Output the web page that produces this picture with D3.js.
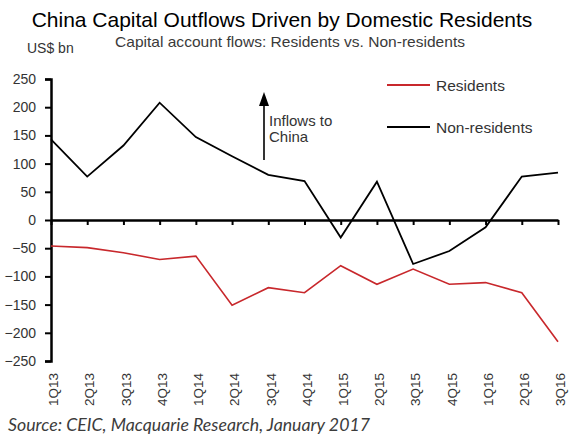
<!DOCTYPE html>
<html>
<head>
<meta charset="utf-8">
<script src="https://cdn.jsdelivr.net/npm/d3@7"></script>
<style>
  body { margin: 0; background: #fff; }
  svg { display: block; font-family: "Liberation Sans", Arial, sans-serif; }
</style>
</head>
<body>
<div id="chart"></div>
<script>
var quarters = ["1Q13","2Q13","3Q13","4Q13","1Q14","2Q14","3Q14","4Q14",
                "1Q15","2Q15","3Q15","4Q15","1Q16","2Q16","3Q16"];
var residents = [-46,-49,-58,-70,-64,-151,-120,-129,-81,-114,-87,-114,-111,-129,-216];
var nonResidents = [143,77,132,208,147,113,80,69,-31,68,-78,-55,-13,77,84];
var yTicks = [250,200,150,100,50,0,-50,-100,-150,-200,-250];

var width = 571, height = 442;
var redColor = "#c8282c";

var svg = d3.select("#chart").append("svg")
  .attr("width", width).attr("height", height);

var x = d3.scalePoint().domain(quarters).range([51, 558]);
var y = d3.scaleLinear().domain([-250, 250]).range([361, 79]);

// titles
svg.append("text")
  .attr("x", 282).attr("y", 26.5)
  .attr("text-anchor", "middle")
  .attr("font-size", 21).attr("fill", "#000")
  .text("China Capital Outflows Driven by Domestic Residents");

svg.append("text")
  .attr("x", 290).attr("y", 47)
  .attr("text-anchor", "middle")
  .attr("font-size", 15).attr("fill", "#3a3a3a")
  .attr("textLength", 350).attr("lengthAdjust", "spacingAndGlyphs")
  .text("Capital account flows: Residents vs. Non-residents");

svg.append("text")
  .attr("x", 27).attr("y", 53)
  .attr("font-size", 14).attr("fill", "#333")
  .text("US$ bn");

// y axis
var yAxis = svg.append("g")
  .attr("transform", "translate(51,0)")
  .call(d3.axisLeft(y).tickValues(yTicks).tickSize(6).tickPadding(9));
yAxis.select(".domain").attr("stroke", "#000").attr("stroke-width", 2.5);
yAxis.selectAll(".tick line").attr("stroke", "#000").attr("stroke-width", 2);
yAxis.selectAll(".tick text")
  .attr("font-size", 14).attr("fill", "#333")
  .attr("font-family", "Liberation Sans, Arial, sans-serif");

// x axis at zero
var xAxis = svg.append("g")
  .attr("transform", "translate(0," + y(0) + ")")
  .call(d3.axisBottom(x).tickSize(5).tickSizeOuter(0).tickFormat(""));
xAxis.select(".domain").attr("stroke", "#000").attr("stroke-width", 2.5);
xAxis.selectAll(".tick line").attr("stroke", "#000").attr("stroke-width", 2);

// category labels along the bottom
var xLabels = svg.append("g")
  .attr("transform", "translate(0,369)")
  .call(d3.axisBottom(x).tickSize(0).tickPadding(0));
xLabels.select(".domain").remove();
xLabels.selectAll(".tick text")
  .attr("font-size", 13.5).attr("fill", "#333")
  .attr("font-family", "Liberation Sans, Arial, sans-serif")
  .attr("text-anchor", "end")
  .attr("transform", "rotate(-90)")
  .attr("x", -4).attr("y", 2).attr("dy", "0.35em");

// lines
var line = d3.line()
  .x(function(d, i) { return x(quarters[i]); })
  .y(function(d) { return y(d); });

svg.append("path")
  .datum(nonResidents)
  .attr("fill", "none").attr("stroke", "#000")
  .attr("stroke-width", 1.8).attr("stroke-linejoin", "miter")
  .attr("d", line);

svg.append("path")
  .datum(residents)
  .attr("fill", "none").attr("stroke", redColor)
  .attr("stroke-width", 1.6)
  .attr("d", line);

// legend
var legend = [
  {name: "Residents", color: redColor, y: 85},
  {name: "Non-residents", color: "#000", y: 127}
];
var lg = svg.selectAll(".legend").data(legend).enter().append("g")
  .attr("class", "legend");
lg.append("line")
  .attr("x1", 387).attr("x2", 430)
  .attr("y1", function(d) { return d.y; }).attr("y2", function(d) { return d.y; })
  .attr("stroke", function(d) { return d.color; })
  .attr("stroke-width", 1.8);
lg.append("text")
  .attr("x", 436).attr("y", function(d) { return d.y + 6; })
  .attr("font-size", 15.5).attr("fill", "#333")
  .text(function(d) { return d.name; });

// annotation arrow
svg.append("defs").append("marker")
  .attr("id", "arrowhead")
  .attr("viewBox", "0 0 10 10")
  .attr("refX", 5).attr("refY", 10)
  .attr("markerWidth", 10).attr("markerHeight", 13)
  .attr("markerUnits", "userSpaceOnUse")
  .attr("orient", "auto-start-reverse")
  .append("path")
  .attr("d", "M0,10 L5,0 L10,10 Z")
  .attr("fill", "#000");

svg.append("line")
  .attr("x1", 264).attr("x2", 264)
  .attr("y1", 160).attr("y2", 105)
  .attr("stroke", "#000").attr("stroke-width", 1.6);
svg.append("path")
  .attr("d", "M264,92 L259,106 L269,106 Z")
  .attr("fill", "#000");

var note = svg.append("text")
  .attr("font-size", 15).attr("fill", "#333");
note.append("tspan").attr("x", 269).attr("y", 126).text("Inflows to");
note.append("tspan").attr("x", 269).attr("y", 142).text("China");

// source
svg.append("text")
  .attr("x", 8).attr("y", 431)
  .attr("font-family", "Lato, 'Open Sans', sans-serif")
  .attr("font-style", "italic")
  .attr("font-size", 17).attr("fill", "#3c3c3c")
  .attr("textLength", 362).attr("lengthAdjust", "spacingAndGlyphs")
  .text("Source: CEIC, Macquarie Research, January 2017");
</script>
</body>
</html>
